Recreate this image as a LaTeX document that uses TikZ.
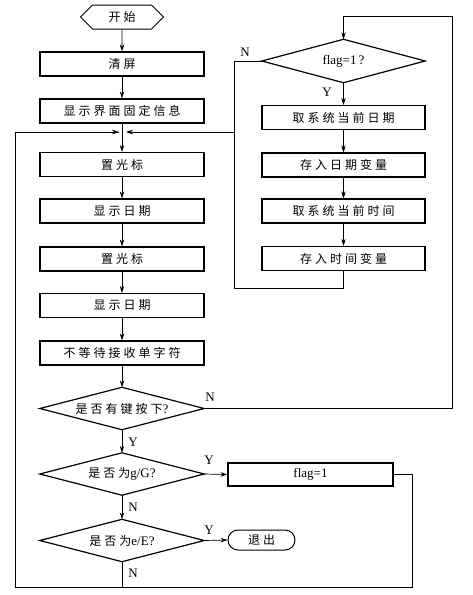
\documentclass[tikz,border=0pt]{standalone}
\usepackage{fontspec}
\setmainfont{Liberation Serif}
\newfontfamily\cjk[LetterSpace=25]{Noto Sans CJK SC}
\newcommand\latn{\rmfamily\fontsize{13}{13}\selectfont}
\usetikzlibrary{shapes.symbols,shapes.misc,arrows.meta}
\begin{document}
\begin{tikzpicture}[x=1pt,y=-1pt,
 box/.style={draw, line width=1.2pt, minimum width=164pt, minimum height=24pt, inner sep=0pt, font=\cjk\fontsize{12}{12}\selectfont},
 rbox/.style={box, minimum width=163pt},
 dec/.style={minimum width=164pt, minimum height=42pt, inner sep=0pt, font=\cjk\fontsize{12}{12}\selectfont},
 dline/.style={line width=1.2pt, line join=miter},
 arr/.style={-{Stealth[length=7pt,width=4.5pt]}, line width=0.7pt},
 ln/.style={line width=0.7pt},
 lab/.style={font=\fontsize{13}{13}\selectfont, inner sep=0pt}
]
\useasboundingbox (0,0) rectangle (473,595);
% left column
\node[draw, line width=1pt, signal, signal to=west and east, minimum width=83pt, minimum height=24pt, inner sep=0pt, font=\cjk\fontsize{12}{12}\selectfont] (st) at (122,17) {开始};
\node[box] (b1) at (122,64) {清屏};
\node[box] (b2) at (122,111) {显示界面固定信息};
\node[box] (b3) at (122,164.5) {置光标};
\node[box] (b4) at (122,211) {显示日期};
\node[box] (b5) at (122,259) {置光标};
\node[box] (b6) at (122,305.5) {显示日期};
\node[box] (b7) at (122,353) {不等待接收单字符};
\node[dec] (d1) at (122,408.5) {是否有键按下{\latn?}};
\node[dec] (d2) at (122,474) {是否为{\latn g/G?}};
\node[dec] (d3) at (122,540.5) {是否为{\latn e/E?}};
\foreach \d in {d1,d2,d3}{\draw[dline] (\d.north) -- (\d.east) -- (\d.south) -- (\d.west) -- cycle;}
\node[box, minimum width=165pt, minimum height=23pt, font=\latn] (fl) at (310.5,474.5) {flag=1};
\node[draw, line width=1pt, rounded rectangle, minimum width=67pt, minimum height=20pt, inner sep=0pt, font=\cjk\fontsize{12}{12}\selectfont] (ex) at (261.5,540) {退出};
% right column
\node[dec, minimum width=163pt, minimum height=43pt, font=\latn] (fd) at (343.5,61) {flag=1\,?};
\draw[dline] (fd.north) -- (fd.east) -- (fd.south) -- (fd.west) -- cycle;
\node[rbox] (r1) at (343.5,117.5) {取系统当前日期};
\node[rbox] (r2) at (343.5,165) {存入日期变量};
\node[rbox] (r3) at (343.5,211) {取系统当前时间};
\node[rbox] (r4) at (343.5,258.5) {存入时间变量};
% coordinates
\coordinate (J) at (122,132);
\coordinate (Jl) at (119,132);
\coordinate (Jr) at (126,132);
\coordinate (rt) at (452,16);
\coordinate (lx) at (234,132);
\coordinate (lb) at (234,288);
\coordinate (bl) at (15,587);
\coordinate (br) at (412,587);
% connectors
\draw[arr] (st) -- (b1);
\draw[arr] (b1) -- (b2);
\draw[arr] (b2) -- (b3);
\draw[arr] (b3) -- (b4);
\draw[arr] (b4) -- (b5);
\draw[arr] (b5) -- (b6);
\draw[arr] (b6) -- (b7);
\draw[arr] (b7) -- (d1.north);
\draw[arr] (d1.south) -- (d2.north);
\draw[arr] (d2.south) -- (d3.north);
\draw[arr] (d2.east) -- (fl.west);
\draw[arr] (d3.east) -- (ex.west);
\draw[arr] (d1.east) -- (d1.east -| rt) -- (rt) -| (fd.north);
\draw[arr] (fd.south) -- (r1.north);
\draw[arr] (r1) -- (r2);
\draw[arr] (r2) -- (r3);
\draw[arr] (r3) -- (r4);
\draw[ln] (fd.west) -| (lx);
\draw[arr] (lx) -- (Jr);
\draw[ln] (r4.south) |- (lb) -- (lx);
\draw[ln] (fl.east) -| (br) -- (bl) |- (Jl);
\draw[arr] (bl |- J) -- (Jl);
\draw[ln] (d3.south) -- (d3.south |- bl);
% labels
\node[lab] at (245,52) {N};
\node[lab] at (327,92) {Y};
\node[lab] at (210,397) {N};
\node[lab] at (133,442) {Y};
\node[lab] at (209,460) {Y};
\node[lab] at (133,507) {N};
\node[lab] at (209,530) {Y};
\node[lab] at (133,573) {N};
\end{tikzpicture}
\end{document}
